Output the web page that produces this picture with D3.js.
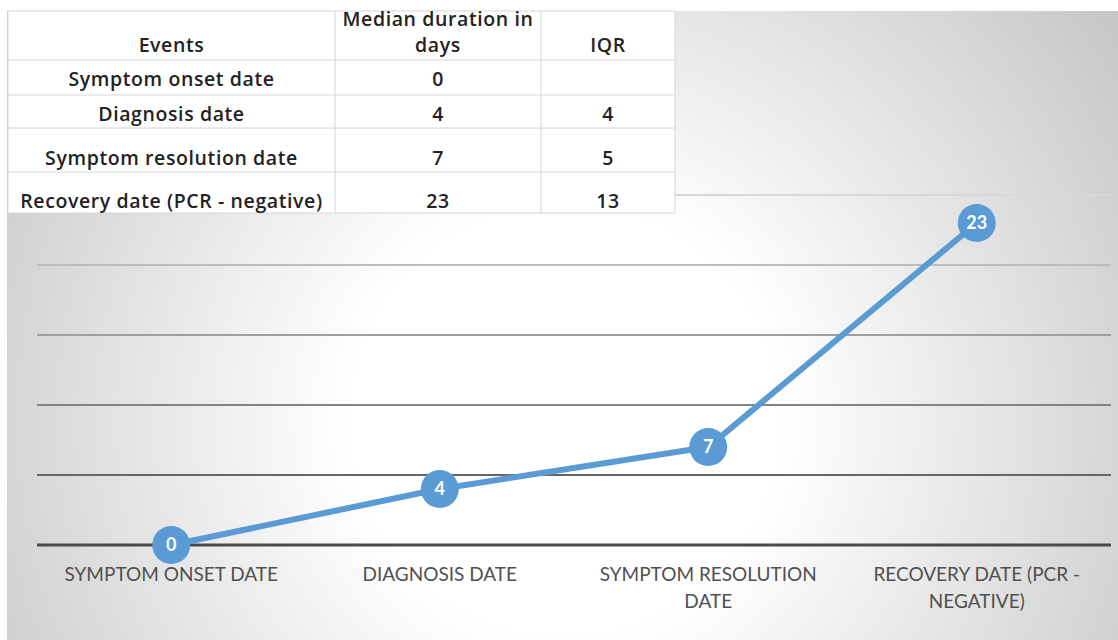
<!DOCTYPE html>
<html>
<head>
<meta charset="utf-8">
<script src="https://cdn.jsdelivr.net/npm/d3@7"></script>
<style>
  html, body { margin: 0; padding: 0; background: #fff; }
  svg { display: block; }
</style>
</head>
<body>
<div id="chart"></div>
<script>
// Table data
const events = ['Symptom onset date', 'Diagnosis date', 'Symptom resolution date', 'Recovery date (PCR - negative)'];
const medianDays = [0, 4, 7, 23];
const iqr = ['', 4, 5, 13];
const headers = [['Events'], ['Median duration in', 'days'], ['IQR']];

// Chart data
const categories = [['SYMPTOM ONSET DATE'], ['DIAGNOSIS DATE'], ['SYMPTOM RESOLUTION', 'DATE'], ['RECOVERY DATE (PCR -', 'NEGATIVE)']];
const yTicks = [0, 5, 10, 15, 20, 25];

const width = 1118, height = 640;
const blue = '#5b9bd5';

const svg = d3.select('#chart').append('svg')
    .attr('width', width)
    .attr('height', height);

// Background radial gradient (white centre, grey edges)
const defs = svg.append('defs');
const grad = defs.append('radialGradient')
    .attr('id', 'bg')
    .attr('gradientUnits', 'userSpaceOnUse')
    .attr('cx', 565).attr('cy', 420).attr('r', 710);
grad.append('stop').attr('offset', '0').attr('stop-color', '#ffffff');
grad.append('stop').attr('offset', '0.3').attr('stop-color', '#ffffff');
grad.append('stop').attr('offset', '1').attr('stop-color', '#c3c3c3');

svg.append('rect')
    .attr('x', 7).attr('y', 11)
    .attr('width', width - 7).attr('height', height - 11)
    .attr('fill', 'url(#bg)');

// Scales
const x = d3.scaleBand()
    .domain(d3.range(categories.length))
    .range([37, 1111]);

const y = d3.scaleLinear()
    .domain([0, 25])
    .range([545, 195]);

// Gridlines - darker towards the bottom
const gridColour = d3.scaleLinear().domain([0, 25]).range(['#4a4a4a', '#d8d8d8']);
svg.append('g')
    .selectAll('line')
    .data(yTicks)
    .join('line')
    .attr('x1', 37).attr('x2', 1111)
    .attr('y1', d => y(d)).attr('y2', d => y(d))
    .attr('stroke', d => gridColour(d))
    .attr('stroke-width', d => d === 0 ? 3 : 2);

// Category labels
const labels = svg.append('g')
    .selectAll('text')
    .data(categories)
    .join('text')
    .attr('text-anchor', 'middle')
    .attr('font-family', 'Lato, "Open Sans", sans-serif')
    .attr('font-size', 19)
    .attr('fill', '#505050');
labels.each(function(lines, i) {
    d3.select(this).selectAll('tspan')
        .data(lines)
        .join('tspan')
        .attr('x', x(i) + x.bandwidth() / 2)
        .attr('y', (d, j) => 581 + j * 27)
        .text(d => d);
});

// Line
const line = d3.line()
    .x((d, i) => x(i) + x.bandwidth() / 2)
    .y(d => y(d));

svg.append('path')
    .datum(medianDays)
    .attr('d', line)
    .attr('fill', 'none')
    .attr('stroke', blue)
    .attr('stroke-width', 6)
    .attr('stroke-linejoin', 'round');

// Markers with value labels
const pts = svg.append('g')
    .selectAll('g')
    .data(medianDays)
    .join('g')
    .attr('transform', (d, i) => `translate(${x(i) + x.bandwidth() / 2},${y(d)})`);

pts.append('circle')
    .attr('r', 19)
    .attr('fill', blue);

pts.append('text')
    .attr('text-anchor', 'middle')
    .attr('dy', '0.36em')
    .attr('font-family', 'Lato, "Open Sans", sans-serif')
    .attr('font-weight', 'bold')
    .attr('font-size', 18)
    .attr('fill', '#fff')
    .text(d => d);

// Table
const colX = [8, 335, 541, 675];
const rowY = [11, 60, 95, 128, 172, 213];
const table = svg.append('g');

table.append('rect')
    .attr('x', colX[0]).attr('y', rowY[0])
    .attr('width', colX[3] - colX[0]).attr('height', rowY[5] - rowY[0])
    .attr('fill', '#fff');

table.append('g')
    .selectAll('line')
    .data(rowY)
    .join('line')
    .attr('x1', colX[0]).attr('x2', colX[3])
    .attr('y1', d => d).attr('y2', d => d)
    .attr('stroke', '#d6d6d6').attr('stroke-width', 1);

table.append('g')
    .selectAll('line')
    .data(colX)
    .join('line')
    .attr('x1', d => d).attr('x2', d => d)
    .attr('y1', rowY[0]).attr('y2', rowY[5])
    .attr('stroke', '#d6d6d6').attr('stroke-width', 1);

const cellFont = '"Open Sans", sans-serif';
const cellSize = 19.5;
const cellSpacing = 0.6;
const colCentre = i => (colX[i] + colX[i + 1]) / 2;

// header
headers.forEach((lines, i) => {
    table.append('text')
        .attr('text-anchor', 'middle')
        .attr('font-family', cellFont)
        .attr('font-size', cellSize)
        .attr('font-weight', 600)
        .attr('letter-spacing', cellSpacing)
        .attr('fill', '#222')
        .selectAll('tspan')
        .data(lines)
        .join('tspan')
        .attr('x', colCentre(i))
        .attr('y', (d, j) => 52 - (lines.length - 1 - j) * 26)
        .text(d => d);
});

const rowBase = [86, 121, 165, 208];
const rows = events.map((e, i) => [e, medianDays[i], iqr[i]]);
rows.forEach((r, i) => {
    table.append('g')
        .selectAll('text')
        .data(r)
        .join('text')
        .attr('x', (d, j) => colCentre(j))
        .attr('y', rowBase[i])
        .attr('text-anchor', 'middle')
        .attr('font-family', cellFont)
        .attr('font-size', cellSize)
        .attr('font-weight', 600)
        .attr('letter-spacing', cellSpacing)
        .attr('fill', '#222')
        .text(d => d);
});
</script>
</body>
</html>
